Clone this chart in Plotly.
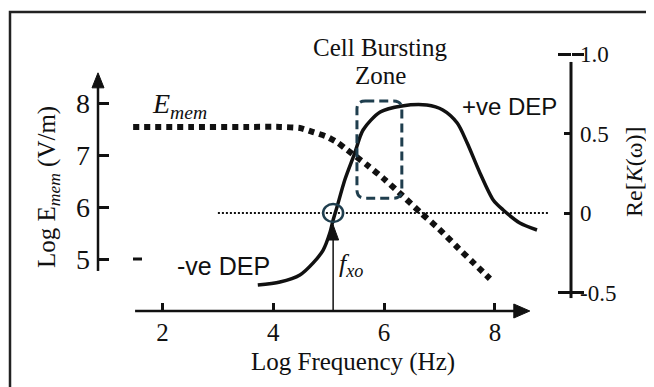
import plotly.graph_objects as go

# ---------------- data ----------------
freq_emem = [1.47, 2.5, 3.5, 4.12, 4.48, 4.72, 4.97, 5.17, 5.33, 5.69, 6.02, 6.32, 6.65, 6.99, 7.30, 7.60, 7.91]
emem_vals = [7.54, 7.54, 7.54, 7.54, 7.52, 7.44, 7.35, 7.23, 7.10, 6.81, 6.52, 6.23, 5.90, 5.58, 5.25, 4.94, 4.62]

freq_dep = [3.72, 4.12, 4.48, 4.72, 4.90, 5.02, 5.08, 5.15, 5.29, 5.47, 5.62, 5.93, 6.32,
            6.77, 7.06, 7.32, 7.50, 7.73, 7.97, 8.15, 8.45, 8.76]
re_k = [-0.453, -0.434, -0.390, -0.314, -0.233, -0.126, -0.044, 0.038, 0.208, 0.377, 0.522, 0.635, 0.673,
        0.679, 0.648, 0.566, 0.440, 0.252, 0.082, 0.019, -0.063, -0.107]

zero_line_x = [3.0, 8.96]
zero_line_y = [0, 0]

f_xo = 5.08
zone_x = [5.51, 6.32]
zone_y = [6.17, 8.04]

x_ticks = [2, 4, 6, 8]
left_ticks = [5, 6, 7, 8]
right_ticks = [-0.5, 0, 0.5, 1.0]
right_tick_text = ["-0.5", "0", "0.5", "1.0"]

# ---------------- layout helpers ----------------
OFF = 8                      # page body margin of the browser
WIN_W, WIN_H = 654, 387
W, H = WIN_W - OFF, WIN_H - OFF
SERIF = "Liberation Serif, Times New Roman, serif"
SANS = "Liberation Sans, Arial, sans-serif"
TEAL = "#1f3e4e"
INK = "#111111"


def px(p):      # window x pixel -> paper fraction
    return (p - OFF) / W


def py(p):      # window y pixel -> paper fraction
    return 1 - (p - OFF) / H


# axis ranges chosen so that the whole figure is the plot area
x_range = [(OFF - 51.7) / 55.4, (WIN_W - 51.7) / 55.4]
yl_range = [5 + (259 - WIN_H) / 52, 5 + (259 - OFF) / 52]
yr_range = [(213 - WIN_H) / 159, (213 - OFF) / 159]

x_axis_pos_y = 4.0          # bottom axis sits at log E = 4 on the left scale
x_axis_span = [1.505, 8.63]
left_axis_x = (98 - 51.7) / 55.4
left_axis_span = [4.77, 8.58]
right_axis_x = (571 - 51.7) / 55.4
f_xo_tip = 5 + (259 - 225) / 52

fig = go.Figure()

# E_mem dotted curve
fig.add_trace(go.Scatter(
    x=freq_emem, y=emem_vals, mode="lines", yaxis="y",
    line=dict(color=INK, width=6, dash="6px,5px", shape="spline", smoothing=0.6),
    showlegend=False, hoverinfo="skip"))

# zero reference line (Re[K] = 0)
fig.add_trace(go.Scatter(
    x=zero_line_x, y=zero_line_y, mode="lines", yaxis="y2",
    line=dict(color=INK, width=2, dash="2px,2px"),
    showlegend=False, hoverinfo="skip"))

# Re[K(w)] curve
fig.add_trace(go.Scatter(
    x=freq_dep, y=re_k, mode="lines", yaxis="y2",
    line=dict(color=INK, width=3.5, shape="spline", smoothing=0.8),
    showlegend=False, hoverinfo="skip"))

# empty traces to make the extra tick axes exist
fig.add_trace(go.Scatter(x=[], y=[], yaxis="y3", showlegend=False))
fig.add_trace(go.Scatter(x=[], y=[], yaxis="y4", showlegend=False))

axis_common = dict(showgrid=False, zeroline=False, showline=False)

fig.update_layout(
    width=W, height=H,
    margin=dict(l=0, r=0, t=0, b=0, pad=0),
    paper_bgcolor="white", plot_bgcolor="white",
    xaxis=dict(range=x_range, domain=[0, 1], anchor="free",
               position=py(311), side="bottom",
               tickvals=x_ticks, ticks="inside", ticklen=8, tickwidth=2.5, tickcolor=INK,
               tickfont=dict(family=SERIF, size=25, color=INK),
               ticklabelstandoff=4, **axis_common),
    yaxis=dict(range=yl_range, domain=[0, 1], anchor="free",
               position=px(98), side="left",
               tickvals=left_ticks, ticks="inside", ticklen=10, tickwidth=3, tickcolor=INK,
               tickfont=dict(family=SERIF, size=28, color=INK),
               ticklabelstandoff=8, **axis_common),
    yaxis2=dict(range=yr_range, overlaying="y", anchor="free",
                position=px(571), side="right",
                tickvals=right_ticks, ticktext=right_tick_text,
                ticks="inside", ticklen=7, tickwidth=3, tickcolor=INK,
                tickfont=dict(family=SERIF, size=23, color=INK),
                ticklabelstandoff=8, **axis_common),
    yaxis3=dict(range=yr_range, overlaying="y", anchor="free",
                position=px(571), side="right",
                tickvals=[-0.5, 1.0], ticks="inside", ticklen=13, tickwidth=3, tickcolor=INK,
                showticklabels=False, **axis_common),
    yaxis4=dict(range=yr_range, overlaying="y", anchor="free",
                position=px(571), side="right",
                tickvals=[-0.5, 1.0], ticks="outside", ticklen=12, tickwidth=3, tickcolor=INK,
                showticklabels=False, **axis_common),
)

# ---------------- shapes ----------------
shapes = []
# outer frame
shapes.append(dict(type="rect", xref="paper", yref="paper",
                   x0=px(10), x1=1.05, y0=-0.05, y1=py(12),
                   line=dict(color="#222222", width=2.5), layer="below"))
# left axis line + arrow head
shapes.append(dict(type="line", xref="x", yref="y",
                   x0=left_axis_x, x1=left_axis_x, y0=left_axis_span[0], y1=left_axis_span[1] - 0.2,
                   line=dict(color=INK, width=2.5)))
shapes.append(dict(type="path", xref="x", yref="y", xsizemode="pixel", ysizemode="pixel",
                   xanchor=left_axis_x, yanchor=left_axis_span[1],
                   path="M0,0 L-6,-15 L6,-15 Z", fillcolor=INK, line=dict(color=INK, width=1)))
# bottom axis line + arrow head
shapes.append(dict(type="line", xref="x", yref="y",
                   x0=x_axis_span[0], x1=x_axis_span[1] - 0.2, y0=x_axis_pos_y, y1=x_axis_pos_y,
                   line=dict(color=INK, width=2.5)))
shapes.append(dict(type="path", xref="x", yref="y", xsizemode="pixel", ysizemode="pixel",
                   xanchor=x_axis_span[1], yanchor=x_axis_pos_y,
                   path="M0,0 L-16,7 L-16,-7 Z", fillcolor=INK, line=dict(color=INK, width=1)))
# f_xo arrow
shapes.append(dict(type="line", xref="x", yref="y",
                   x0=f_xo, x1=f_xo, y0=x_axis_pos_y, y1=f_xo_tip - 0.2,
                   line=dict(color=INK, width=1.5)))
shapes.append(dict(type="path", xref="x", yref="y", xsizemode="pixel", ysizemode="pixel",
                   xanchor=f_xo, yanchor=f_xo_tip,
                   path="M0,0 L-5.5,-15 L5.5,-15 Z", fillcolor=INK, line=dict(color=INK, width=1)))
# right axis line
shapes.append(dict(type="line", xref="x", yref="y2",
                   x0=right_axis_x, x1=right_axis_x, y0=-0.535, y1=0.95,
                   line=dict(color=INK, width=3)))
# small stray dash at left
shapes.append(dict(type="line", xref="x", yref="y",
                   x0=(133 - 51.7) / 55.4, x1=(142 - 51.7) / 55.4, y0=5.0, y1=5.0,
                   line=dict(color=INK, width=3)))
# cell bursting zone: dashed rounded rectangle
x0, x1 = zone_x
y0, y1 = zone_y
rx, ry = 0.15, 0.16
path = (f"M{x0 + rx},{y1} L{x1 - rx},{y1} Q{x1},{y1} {x1},{y1 - ry} "
        f"L{x1},{y0 + ry} Q{x1},{y0} {x1 - rx},{y0} "
        f"L{x0 + rx},{y0} Q{x0},{y0} {x0},{y0 + ry} "
        f"L{x0},{y1 - ry} Q{x0},{y1} {x0 + rx},{y1} Z")
shapes.append(dict(type="path", xref="x", yref="y", path=path,
                   line=dict(color=TEAL, width=3, dash="9px,5px")))
# crossover circle
shapes.append(dict(type="circle", xref="x", yref="y2",
                   xsizemode="pixel", ysizemode="pixel",
                   xanchor=f_xo, yanchor=0, x0=-10, x1=10, y0=-9, y1=9,
                   line=dict(color=TEAL, width=2.5)))
fig.update_layout(shapes=shapes)

# ---------------- annotations ----------------
ann = []
ann.append(dict(x=5.93, y=py(47), xref="x", yref="paper", xanchor="center", yanchor="middle",
                text="Cell Bursting", showarrow=False,
                font=dict(family=SERIF, size=25, color=INK)))
ann.append(dict(x=5.93, y=py(76), xref="x", yref="paper", xanchor="center", yanchor="middle",
                text="Zone", showarrow=False,
                font=dict(family=SERIF, size=25, color=INK)))
ann.append(dict(x=7.37, y=0.667, xref="x", yref="y2", xanchor="left", yanchor="middle",
                text="+ve DEP", showarrow=False,
                font=dict(family=SANS, size=24, color=INK)))
ann.append(dict(x=2.23, y=4.865, xref="x", yref="y", xanchor="left", yanchor="middle",
                text="-ve DEP", showarrow=False,
                font=dict(family=SANS, size=25, color=INK)))
ann.append(dict(x=1.78, y=7.95, xref="x", yref="y", xanchor="left", yanchor="middle",
                text="<i>E<sub>mem</sub></i>", showarrow=False,
                font=dict(family=SERIF, size=28, color=INK)))
ann.append(dict(x=5.15, y=4.88, xref="x", yref="y", xanchor="left", yanchor="middle",
                text="<i>f<sub>xo</sub></i>", showarrow=False,
                font=dict(family=SERIF, size=26, color=INK)))
# axis titles
ann.append(dict(x=px(353), y=py(362), xref="paper", yref="paper",
                xanchor="center", yanchor="middle",
                text="Log Frequency (Hz)", showarrow=False,
                font=dict(family=SERIF, size=25, color=INK)))
ann.append(dict(x=px(48), y=py(187), xref="paper", yref="paper", textangle=-90,
                xanchor="center", yanchor="middle",
                text="Log E<sub><i>mem</i></sub> (V/m)", showarrow=False,
                font=dict(family=SERIF, size=25, color=INK)))
ann.append(dict(x=px(634), y=py(172), xref="paper", yref="paper", textangle=-90,
                xanchor="center", yanchor="middle",
                text="Re[<i>K</i>(ω)]", showarrow=False,
                font=dict(family=SERIF, size=24, color=INK)))
fig.update_layout(annotations=ann)

fig.write_html("out.html")
